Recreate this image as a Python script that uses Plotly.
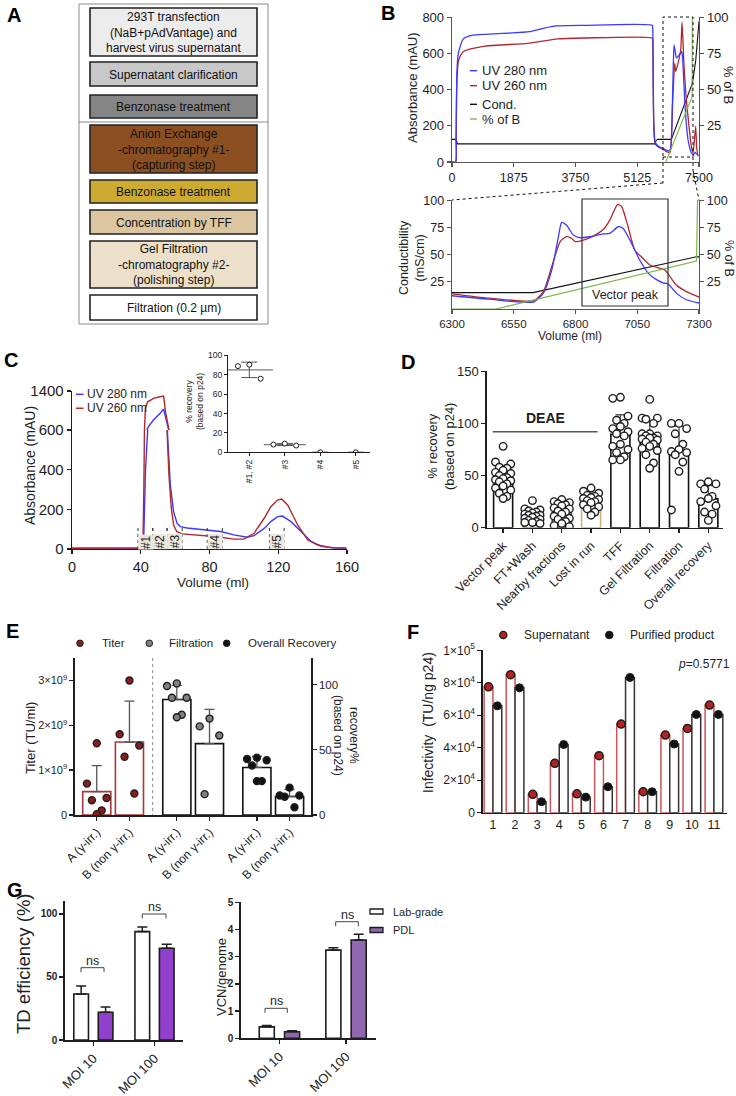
import numpy as np
import plotly.graph_objects as go

W, H = 736, 1096
FONT = "Liberation Sans, Arial, Helvetica, sans-serif"
INK = "#1e1e1e"
BLUE = "#3a3aff"
RED = "#b0282e"
GREEN = "#7ab648"

# ======================= DATA =======================
# Panel A - workflow
a_steps = ["293T transfection<br>(NaB+pAdVantage) and<br>harvest virus supernatant",
           "Supernatant clarification", "Benzonase treatment",
           "Anion Exchange<br>-chromatography #1-<br>(capturing step)",
           "Benzonase treatment", "Concentration by TFF",
           "Gel Filtration<br>-chromatography #2-<br>(polishing step)",
           "Filtration (0.2 \u00b5m)"]
a_fill = ["#ececec", "#c8c8c8", "#858585", "#8c4f22", "#cdab31", "#dcc6a1", "#ece0ca", "#ffffff"]

# Panel B - full AEX run (top)
b_uv280_vol = [0, 110, 125, 150, 192, 343, 600, 1500, 2368, 2800, 3178, 4000, 6080, 6095, 6110, 6130,
               6170, 6250, 6400, 6600, 6650, 6690, 6720, 6743, 6770, 6814, 6870, 6945, 6975, 7000,
               7066, 7120, 7167, 7230, 7268, 7338, 7380, 7420, 7470]
b_uv280 = [0, 0, 150, 500, 600, 680, 700, 710, 720, 740, 752, 755, 755, 740, 450, 200,
           110, 90, 75, 60, 90, 300, 540, 645, 620, 575, 585, 601, 610, 580,
           344, 200, 123, 70, 50, 40, 55, 45, 40]
b_uv260_vol = [0, 110, 125, 150, 200, 350, 1000, 2300, 3200, 4000, 6080, 6095, 6110, 6130, 6170,
               6250, 6400, 6612, 6650, 6700, 6763, 6793, 6864, 6945, 6985, 7046, 7116, 7197,
               7268, 7318, 7360, 7399, 7430, 7470]
b_uv260 = [0, 0, 120, 450, 560, 610, 640, 655, 680, 685, 685, 670, 400, 180, 100,
           85, 70, 50, 90, 330, 546, 500, 546, 620, 772, 528, 344, 197,
           86, 50, 120, 197, 80, 31]
b_cond_vol = [0, 120, 170, 6150, 6200, 6250, 6660, 7300, 7400, 7470, 7500]
b_cond = [125, 125, 100, 100, 120, 125, 125, 436, 560, 700, 776]
b_pctb_vol = [6490, 7290, 7298]
b_pctb = [0, 45, 100]
b_ticks = [0, 1875, 3750, 5625, 7500]
b_ticktext = ["0", "1875", "3750", "5125", "7500"]

# Panel B - zoom on elution (bottom)
bz_uv280_vol = [6300, 6450, 6630, 6670, 6704, 6731, 6744, 6764, 6791, 6818, 6858, 6912, 6939, 6973,
                6993, 7020, 7060, 7094, 7128, 7155, 7175, 7208, 7249, 7300]
bz_uv280 = [12.2, 9, 6.4, 14.6, 36, 66.5, 79.6, 77, 68, 65.5, 66.5, 69, 69.5, 75.6,
            74, 63.4, 45, 33, 27, 24, 23, 14.6, 8.5, 5.5]
bz_uv260_vol = [6300, 6450, 6630, 6670, 6704, 6738, 6764, 6784, 6798, 6832, 6872, 6912, 6939, 6970,
                6986, 7013, 7040, 7067, 7101, 7141, 7161, 7182, 7208, 7249, 7300]
bz_uv260 = [14, 10, 7.6, 16, 39, 62, 66.5, 65, 62, 63.4, 67, 73, 81.7, 96,
            94.5, 75.6, 54, 48, 40.5, 37.5, 36, 30, 22, 16, 11]
bz_cond_vol = [6300, 6628, 7290, 7300]
bz_cond = [15, 15, 48, 48]
bz_pctb_vol = [6300, 6478, 7290, 7294, 7300]
bz_pctb = [0, 0, 44, 100, 100]
bz_ticks = [6300, 6550, 6800, 7050, 7300]

# Panel C - gel filtration chromatogram
c_uv280_vol = [0, 39, 41.6, 42.8, 43.6, 44.5, 47.4, 51.3, 53.3, 54.6, 55.6, 57.2, 59.1, 61.1, 63.0,
               66.9, 74.7, 86.4, 94.2, 102, 105.9, 111.8, 115.7, 119.6, 122.5, 127.4, 133.3, 139.1,
               145, 152.8, 159.6]
c_uv280 = [4, 4, 5, 407, 600, 668, 805, 942, 1031, 840, 575, 323, 188, 130, 113,
           106, 98, 88, 71, 59, 67, 104, 138, 163, 166, 138, 88, 38,
           13, 5, 3]
c_uv260_vol = [0, 39, 41.2, 41.8, 42.3, 42.7, 44.0, 47.4, 51.3, 53.3, 54.4, 55.4, 56.4, 57.8, 59.1,
               61.0, 64.0, 70.8, 84.5, 94.2, 100, 105.9, 111.8, 115.7, 119.6, 122, 125.5, 131.3,
               137.2, 143, 150.9, 159.6]
c_uv260 = [4, 4, 5, 300, 700, 1050, 1180, 1250, 1283, 1297, 975, 575, 373, 205, 121,
           87, 76, 71, 62, 50, 50, 79, 155, 213, 247, 252, 222, 121,
           45, 20, 7, 5]
c_frac_edges = [(38.4, 47.0), (47.0, 55.3), (55.3, 64.1), (78.7, 87.5), (114.9, 123.4)]
c_frac_labels = ["#1", "#2", "#3", "#4", "#5"]
# inset: % recovery per fraction pool
c_inset_cats = ["#1, #2", "#3", "#4", "#5"]
c_inset_vals = [[90.5, 89, 76], [7, 9, 8], [0], [0]]

# Panel D - step recoveries
d_cats = ["Vector peak", "FT+Wash", "Nearby fractions", "Lost in run", "TFF",
          "Gel Filtration", "Filtration", "Overall recovery"]
d_vector_peak = [78, 63, 61, 58, 57, 55, 53, 52, 50, 48, 47, 46, 45, 44, 42, 40, 38, 36, 33, 30, 28]
d_ft_wash = [26, 18, 17, 16, 15, 14, 13, 12, 12, 11, 10, 9, 8, 7, 6, 5, 5, 4]
d_nearby = [27, 25, 24, 23, 22, 21, 19, 18, 16, 15, 13, 11, 9, 8, 6, 4, 2, 1]
d_lost = [38, 35, 33, 31, 30, 29, 28, 27, 26, 25, 24, 22, 20, 18, 15, 12]
d_tff = [125, 124, 107, 103, 100, 97, 95, 92, 90, 88, 80, 78, 75, 72, 68, 65, 65]
d_gel = [123, 105, 105, 104, 100, 90, 88, 86, 90, 88, 86, 85, 84, 82, 80, 78, 76, 74, 70, 62, 57]
d_filtration = [100, 100, 95, 90, 80, 75, 73, 72, 70, 63, 54, 17]
d_overall = [44, 42, 42, 37, 30, 28, 25, 21, 15, 13, 7]

# Panel E - titer and recoveries, gamma-irradiated vs not
e_groups = ["A (\u03b3-irr.)", "B (non \u03b3-irr.)"]
e_titer_A = [1.6e9, 0.7e9, 0.38e9, 0.33e9, 0.1e9, 0.02e9]
e_titer_B = [3.0e9, 1.8e9, 1.55e9, 1.3e9, 0.48e9]
e_filt_A = [101, 99, 90, 90, 77, 75]
e_filt_B = [74, 68, 61, 16]
e_overall_A = [44, 43, 42, 38, 26, 26]
e_overall_B = [21, 15, 15, 14, 6]

# Panel F - infectivity per run
f_runs = [1, 2, 3, 4, 5, 6, 7, 8, 9, 10, 11]
f_supernatant = [77500, 85000, 11300, 30400, 11600, 35100, 54600, 12900, 47800, 51900, 66300]
f_purified = [65800, 76900, 6800, 42000, 9600, 16000, 83300, 12900, 42300, 60500, 60500]
f_pvalue = "0.5771"

# Panel G - transduction
g_moi = ["MOI 10", "MOI 100"]
g_td_lab = [36.5, 86]
g_td_lab_sd = [6.4, 3.7]
g_td_pdl = [22, 72.8]
g_td_pdl_sd = [4.2, 3.2]
g_vcn_lab = [0.42, 3.24]
g_vcn_lab_sd = [0.05, 0.09]
g_vcn_pdl = [0.24, 3.61]
g_vcn_pdl_sd = [0.04, 0.21]

# ======================= HELPERS =======================
def fx(p):
    return p / W


def fy(p):
    return 1 - p / H


fig = go.Figure()
shapes, annots, lay = [], [], {}


def axis(dom, rng, size=12, **kw):
    d = dict(range=rng, showgrid=False, zeroline=False, showline=True, automargin=False,
             linecolor=INK, linewidth=1.3, ticks="outside", ticklen=4, tickwidth=1.3,
             tickcolor=INK, tickfont=dict(family=FONT, size=size, color=INK), fixedrange=True)
    if dom is not None:
        d["domain"] = dom
    d.update(kw)
    return d


def ann(text, x, y, size=12, angle=0, xa="center", ya="middle", color=INK, bold=False, **kw):
    if bold:
        text = "<b>" + text + "</b>"
    annots.append(dict(text=text, x=fx(x), y=fy(y), xref="paper", yref="paper", showarrow=False,
                       textangle=angle, xanchor=xa, yanchor=ya,
                       font=dict(family=FONT, size=size, color=color), **kw))


def rect(x0, y0, x1, y1, fill="rgba(0,0,0,0)", line=INK, lw=1.2, dash="solid", layer="above"):
    shapes.append(dict(type="rect", xref="paper", yref="paper", x0=fx(x0), x1=fx(x1), y0=fy(y1),
                       y1=fy(y0), fillcolor=fill, line=dict(color=line, width=lw, dash=dash),
                       layer=layer))


def seg(x0, y0, x1, y1, color=INK, lw=1.2, dash="solid"):
    shapes.append(dict(type="line", xref="paper", yref="paper", x0=fx(x0), x1=fx(x1), y0=fy(y0),
                       y1=fy(y1), line=dict(color=color, width=lw, dash=dash)))


def dot(cx, cy, r, fill, line=INK, lw=1):
    shapes.append(dict(type="circle", xref="paper", yref="paper", x0=fx(cx - r), x1=fx(cx + r),
                       y0=fy(cy + r), y1=fy(cy - r), fillcolor=fill, line=dict(color=line, width=lw)))


def swarm(vals, half):
    vals = np.asarray(vals, float)
    order = np.argsort(-vals)
    cols = [0, -1, 1, -0.5, 0.5]
    off = np.empty(len(vals))
    for r, i in enumerate(order):
        off[i] = cols[r % len(cols)] * half
    return off


def line_trace(x, y, xa, ya, color, width=1.3, shape="linear"):
    fig.add_trace(go.Scatter(x=x, y=y, xaxis=xa, yaxis=ya, mode="lines", showlegend=False,
                             line=dict(color=color, width=width, shape=shape, smoothing=0.6),
                             hoverinfo="skip"))


def bar_group(pos, groups, xa, ya, width, edge, pcolor, psize=7, half=0.2, lw=1.6, err="#555"):
    means = [float(np.mean(g)) for g in groups]
    sds = [float(np.std(g, ddof=1)) if len(g) > 1 else 0.0 for g in groups]
    edges = edge if isinstance(edge, list) else [edge] * len(groups)
    fig.add_trace(go.Bar(x=pos, y=means, width=width, xaxis=xa, yaxis=ya, showlegend=False,
                         marker=dict(color="white", line=dict(color=edges, width=lw)),
                         hoverinfo="skip"))
    fig.add_trace(go.Scatter(x=pos, y=means, xaxis=xa, yaxis=ya, mode="markers", showlegend=False,
                             marker=dict(size=1, color="rgba(0,0,0,0)"),
                             error_y=dict(type="data", symmetric=False, array=sds,
                                          arrayminus=[0] * len(sds), color=err, thickness=1.3,
                                          width=5), hoverinfo="skip"))
    px_, py_ = [], []
    for p, g in zip(pos, groups):
        off = swarm(g, half)
        px_ += list(p + off)
        py_ += list(g)
    fig.add_trace(go.Scatter(x=px_, y=py_, xaxis=xa, yaxis=ya, mode="markers", showlegend=False,
                             marker=dict(size=psize, color=pcolor, line=dict(color=INK, width=1.4)),
                             hoverinfo="skip"))


# ======================= PANEL A =======================
a_box_y = [(8, 56), (62, 86), (95, 118), (125, 173), (180, 203), (210, 234), (241, 288), (295, 320)]
rect(79, 4, 268, 324, line="#8a8a8a", lw=1)
seg(79, 122, 268, 122, color="#8a8a8a", lw=1.2)
for (y0, y1), txt, col in zip(a_box_y, a_steps, a_fill):
    rect(90, y0, 257, y1, fill=col, line="#222", lw=1.6)
    ann(txt, 173.5, (y0 + y1) / 2 + 0.5, size=12, color="#111")

# ======================= PANEL B (top) =======================
lay["xaxis"] = axis([fx(452), fx(699)], [0, 7500], size=12.5, anchor="y", tickvals=b_ticks,
                    ticktext=b_ticktext, linecolor="#555", tickcolor="#555")
lay["yaxis"] = axis([fy(162), fy(17)], [0, 801], size=13, anchor="x", tickvals=[0, 200, 400, 600, 800],
                    linecolor="#555", tickcolor="#555")
lay["yaxis2"] = axis(None, [0, 100.2], size=13, anchor="x", overlaying="y", side="right",
                     tickvals=[25, 50, 75, 100], linecolor="#555", tickcolor="#555")
line_trace(b_cond_vol, b_cond, "x", "y", "#111", 1.1)
line_trace(b_pctb_vol, b_pctb, "x", "y2", GREEN, 1.1)
line_trace(b_uv260_vol, b_uv260, "x", "y", RED, 1.3, "spline")
line_trace(b_uv280_vol, b_uv280, "x", "y", BLUE, 1.3, "spline")

# zoom window and connectors
rect(663, 17, 693, 157, line="#111", lw=1, dash="dot")
seg(663, 157, 663, 183, color="#111", lw=1, dash="dot")
seg(663, 183, 452, 200, color="#111", lw=1, dash="dot")
seg(693, 157, 693, 170, color="#111", lw=1, dash="dot")
seg(693, 170, 699, 200, color="#111", lw=1, dash="dot")

# legend B
for yy, col, lab in [(70.7, BLUE, "UV 280 nm"), (85.7, RED, "UV 260 nm"),
                     (104.3, "#111", "Cond."), (119, GREEN, "% of B")]:
    seg(470, yy, 477, yy, color=col, lw=1.4)
    ann(lab, 480, yy, size=13, xa="left")
ann("Absorbance (mAU)", 412, 88, size=13, angle=-90)
ann("% of B", 729, 85, size=13, angle=90)

# ======================= PANEL B (bottom) =======================
lay["xaxis2"] = axis([fx(452), fx(699)], [6300, 7300], size=11.5, anchor="y3", tickvals=bz_ticks,
                     linecolor="#555", tickcolor="#555")
lay["yaxis3"] = axis([fy(309), fy(200)], [0, 100.2], size=12.5, anchor="x2", tickvals=[25, 50, 75, 100],
                     linecolor="#555", tickcolor="#555")
lay["yaxis4"] = axis(None, [0, 100.2], size=12.5, anchor="x2", overlaying="y3", side="right",
                     tickvals=[25, 50, 75, 100], linecolor="#555", tickcolor="#555")
line_trace(bz_pctb_vol, bz_pctb, "x2", "y4", GREEN, 1.2)
line_trace(bz_cond_vol, bz_cond, "x2", "y3", "#111", 1.2)
line_trace(bz_uv260_vol, bz_uv260, "x2", "y3", RED, 1.3, "spline")
line_trace(bz_uv280_vol, bz_uv280, "x2", "y3", BLUE, 1.3, "spline")
rect(582, 199, 668, 306, line="#333", lw=1.2)
ann("Vector peak", 625, 295, size=12.5)
ann("Conductibility<br>(mS/cm)", 412, 258, size=12.5, angle=-90)
ann("% of B", 729, 258, size=12.5, angle=90)
ann("Volume (ml)", 570, 336, size=12)

# ======================= PANEL C =======================
lay["xaxis3"] = axis([fx(72), fx(347)], [0, 160], size=14.5, anchor="y5", tickvals=[0, 40, 80, 120, 160])
lay["yaxis5"] = axis([fy(549), fy(430)], [0, 600], size=15, anchor="x3", tickvals=[0, 200, 400, 600])
lay["yaxis6"] = axis([fy(430), fy(391)], [600, 1402], size=15, anchor="x3", tickvals=[1400])
for ya in ["y5", "y6"]:
    line_trace(c_uv280_vol, c_uv280, "x3", ya, BLUE, 1.4)
    line_trace(c_uv260_vol, c_uv260, "x3", ya, RED, 1.4)
for (e0, e1), lab in zip(c_frac_edges, c_frac_labels):
    for e in (e0, e1):
        shapes.append(dict(type="line", xref="x3", yref="y5", x0=e, x1=e, y0=0, y1=120,
                           line=dict(color="#333", width=1, dash="dot")))
    annots.append(dict(text=lab, x=(e0 + e1) / 2, y=37, xref="x3", yref="y5", showarrow=False,
                       textangle=-90, font=dict(family=FONT, size=12, color=INK),
                       bgcolor="#ece7de", borderpad=0))
for yy, col, lab in [(394.3, BLUE, "UV 280 nm"), (408.3, RED, "UV 260 nm")]:
    seg(76, yy, 83.5, yy, color=col, lw=1.5)
    ann(lab, 85, yy, size=12, xa="left")
ann("Absorbance (mAU)", 30, 466, size=14, angle=-90)
ann("Volume (ml)", 213, 582, size=13.5)

# inset
lay["xaxis4"] = axis([fx(228), fx(370)], [-0.6, 3.4], size=8.5, anchor="y7", tickvals=[0, 1, 2, 3],
                     ticktext=c_inset_cats, tickangle=-90, ticklen=3, linewidth=1, tickwidth=1)
lay["yaxis7"] = axis([fy(452.3), fy(355)], [0, 100.5], size=8.5, anchor="x4",
                     tickvals=[0, 20, 40, 60, 80, 100], ticklen=3, linewidth=1, tickwidth=1)
ix, iy, mx, my, msd = [], [], [], [], []
for i, g in enumerate(c_inset_vals):
    off = swarm(g, 0.32)
    ix += list(i + off)
    iy += list(g)
    mx.append(i)
    my.append(float(np.mean(g)))
    msd.append(float(np.std(g, ddof=1)) if len(g) > 1 else 0.0)
fig.add_trace(go.Scatter(x=mx, y=my, xaxis="x4", yaxis="y7", mode="markers", showlegend=False,
                         marker=dict(symbol="line-ew", size=[34, 30, 0, 0], line=dict(color="#444", width=1.3)),
                         error_y=dict(type="data", array=msd, color="#555", thickness=1, width=8),
                         hoverinfo="skip"))
fig.add_trace(go.Scatter(x=ix, y=iy, xaxis="x4", yaxis="y7", mode="markers", showlegend=False,
                         marker=dict(size=5, color="white", line=dict(color=INK, width=1)),
                         hoverinfo="skip"))
ann("% recovery<br>(based on p24)", 194, 402, size=8.5, angle=-90)

# ======================= PANEL D =======================
lay["xaxis5"] = axis([fx(487), fx(723)], [-0.55, 7.5], size=12.5, anchor="y8", tickvals=list(range(8)),
                     ticktext=d_cats, tickangle=-45, linewidth=1.6)
lay["yaxis8"] = axis([fy(527.7), fy(370.7)], [0, 150.5], size=13, anchor="x5", tickvals=[0, 50, 100, 150],
                     linewidth=1.6)
d_groups = [d_vector_peak, d_ft_wash, d_nearby, d_lost, d_tff, d_gel, d_filtration, d_overall]
d_edges = ["#111", "#d2832e", "#8b2525", "#d2b07a", "#111", "#111", "#111", "#111"]
bar_group(list(range(8)), d_groups, "x5", "y8", 0.65, d_edges, "white", psize=7.5, half=0.26)
seg(492.7, 431.7, 597.7, 431.7, color="#555", lw=1.5)
ann("DEAE", 545, 418, size=14, bold=True)
ann("% recovery<br>(based on p24)", 441, 447, size=13, angle=-90)

# ======================= PANEL E =======================
e_pos = [0, 1, 2.45, 3.45, 4.9, 5.9]
lay["xaxis6"] = axis([fx(75), fx(311)], [-0.666, 6.556], size=12, anchor="y9", tickvals=e_pos,
                     ticktext=e_groups * 3, tickangle=-45, linewidth=1.6)
lay["yaxis9"] = axis([fy(815), fy(658)], [0, 3.5e9], size=11, anchor="x6", tickvals=[0, 1e9, 2e9, 3e9],
                     ticktext=["0", "1\u00d710<sup>9</sup>", "2\u00d710<sup>9</sup>", "3\u00d710<sup>9</sup>"],
                     linewidth=1.6)
lay["yaxis10"] = axis(None, [0, 120.5], size=11.5, anchor="x6", overlaying="y9", side="right",
                      tickvals=[0, 50, 100], linewidth=1.6)
bar_group(e_pos[0:2], [e_titer_A, e_titer_B], "x6", "y9", 0.86, "#a83a3a", "#8b1c1c", half=0.3)
bar_group(e_pos[2:4], [e_filt_A, e_filt_B], "x6", "y10", 0.86, "#111", "#808080", half=0.3)
bar_group(e_pos[4:6], [e_overall_A, e_overall_B], "x6", "y10", 0.86, "#111", "#111", half=0.3)
seg(152.7, 658, 152.7, 815, color="#888", lw=1, dash="dot")
for cx, col, lab, tx in [(80, "#8b1c1c", "Titer", 100), (149.3, "#808080", "Filtration", 166.5),
                         (226.7, "#111", "Overall Recovery", 245.5)]:
    dot(cx, 643.3, 3.3, col)
    ann(lab, tx, 643.3, size=11.5, xa="left")
ann("Titer (TU/ml)", 30, 738, size=13, angle=-90)
ann("recovery%<br>(based on p24)", 346, 735, size=12, angle=90)

# ======================= PANEL F =======================
lay["xaxis7"] = axis([fx(483), fx(727)], [0.55, 11.59], size=12.5, anchor="y11", tickvals=f_runs,
                     ticks="", linewidth=1.6)
lay["yaxis11"] = axis([fy(812.7), fy(650)], [0, 1.002e5], size=12, anchor="x7",
                      tickvals=[0, 2e4, 4e4, 6e4, 8e4, 1e5],
                      ticktext=["0", "2\u00d710<sup>4</sup>", "4\u00d710<sup>4</sup>", "6\u00d710<sup>4</sup>",
                                "8\u00d710<sup>4</sup>", "1\u00d710<sup>5</sup>"], linewidth=1.6)
f_sx = [r - 0.2 for r in f_runs]
f_px = [r + 0.2 for r in f_runs]
fig.add_trace(go.Bar(x=f_sx, y=f_supernatant, width=0.4, xaxis="x7", yaxis="y11", showlegend=False,
                     marker=dict(color="white", line=dict(color="#c8565a", width=1.5)), hoverinfo="skip"))
fig.add_trace(go.Bar(x=f_px, y=f_purified, width=0.4, xaxis="x7", yaxis="y11", showlegend=False,
                     marker=dict(color="white", line=dict(color="#333", width=1.5)), hoverinfo="skip"))
fig.add_trace(go.Scatter(x=f_sx, y=f_supernatant, xaxis="x7", yaxis="y11", mode="markers", showlegend=False,
                         marker=dict(size=8, color="#b52222", line=dict(color=INK, width=1.5)),
                         hoverinfo="skip"))
fig.add_trace(go.Scatter(x=f_px, y=f_purified, xaxis="x7", yaxis="y11", mode="markers", showlegend=False,
                         marker=dict(size=8, color="#111", line=dict(color=INK, width=1)),
                         hoverinfo="skip"))
dot(503.3, 635, 3.6, "#b52222", lw=1.3)
ann("Supernatant", 521.7, 635, size=12, xa="left")
dot(609.3, 635, 3.8, "#111")
ann("Purified product", 628.3, 635, size=12, xa="left")
ann("<i>p</i>=" + f_pvalue, 732, 664, size=12, xa="right")
ann("Infectivity  (TU/ng p24)", 428, 723, size=14, angle=-90)

# ======================= PANEL G =======================
lay["xaxis8"] = axis([fx(65), fx(183)], [-0.464, 1.466], size=13, anchor="y12", tickvals=[0, 1],
                     ticktext=g_moi, tickangle=-45, linewidth=1.6)
lay["yaxis12"] = axis([fy(1040), fy(900.7)], [0, 110.5], size=10, anchor="x8", tickvals=[0, 50, 100],
                      linewidth=1.6)
lay["yaxis12"]["tickfont"]["weight"] = "bold"
lay["xaxis9"] = axis([fx(241), fx(376)], [-0.577, 1.45], size=13, anchor="y13", tickvals=[0, 1],
                     ticktext=g_moi, tickangle=-45, linewidth=1.6)
lay["yaxis13"] = axis([fy(1038.3), fy(901.7)], [0, 5.02], size=10, anchor="x9",
                      tickvals=[0, 1, 2, 3, 4, 5], linewidth=1.6)
lay["yaxis13"]["tickfont"]["weight"] = "bold"


def g_bars(xa, ya, lab, lab_sd, pdl, pdl_sd, pcol, off, wid):
    for vals, sd, col, sgn in [(lab, lab_sd, "white", -1), (pdl, pdl_sd, pcol, 1)]:
        xs = [i + sgn * off for i in range(len(vals))]
        fig.add_trace(go.Bar(x=xs, y=vals, width=wid, xaxis=xa, yaxis=ya, showlegend=False,
                             marker=dict(color=col, line=dict(color=INK, width=1.6)),
                             error_y=dict(type="data", symmetric=False, array=sd, arrayminus=[0] * len(sd),
                                          color=INK, thickness=1.5, width=5),
                             hoverinfo="skip"))


g_bars("x8", "y12", g_td_lab, g_td_lab_sd, g_td_pdl, g_td_pdl_sd, "#9040cc", 0.2, 0.24)
g_bars("x9", "y13", g_vcn_lab, g_vcn_lab_sd, g_vcn_pdl, g_vcn_pdl_sd, "#9068b0", 0.19, 0.226)


def bracket(x0, x1, y, drop=4.5):
    seg(x0, y + drop, x0, y, color="#444", lw=1)
    seg(x0, y, x1, y, color="#444", lw=1)
    seg(x1, y, x1, y + drop, color="#444", lw=1)
    ann("ns", (x0 + x1) / 2, y - 7, size=12.5)


bracket(81, 104, 967.7)
bracket(142.3, 166, 914)
bracket(265, 287.3, 1008.3)
bracket(335.7, 358.3, 921.7)
rect(370, 909, 383, 914, fill="white", line=INK, lw=1.3)
ann("Lab-grade", 391, 911.5, size=11, xa="left")
rect(370, 927.5, 383, 932.5, fill="#9068b0", line=INK, lw=1.3)
ann("PDL", 391, 930, size=11, xa="left")
ann("TD efficiency (%)", 23, 964, size=18.5, angle=-90)
ann("VCN/genome", 221, 977, size=13, angle=-90)

# ======================= PANEL LETTERS =======================
for L, x, y in [("A", 14, 15), ("B", 388, 13), ("C", 11, 360), ("D", 408, 362),
                ("E", 13, 631), ("F", 413, 632), ("G", 15, 890)]:
    ann(L, x, y, size=20, bold=True, color="#000")

fig.update_layout(width=W, height=H, margin=dict(l=0, r=0, t=0, b=0, pad=0, autoexpand=False),
                  autosize=False, paper_bgcolor="white", plot_bgcolor="rgba(0,0,0,0)", showlegend=False,
                  barmode="overlay", font=dict(family=FONT, color=INK),
                  shapes=shapes, annotations=annots, **lay)

fig.write_html("out.html", config={"displayModeBar": False, "staticPlot": True},
               post_script="document.body.style.margin='0';document.body.style.overflow='hidden';")
